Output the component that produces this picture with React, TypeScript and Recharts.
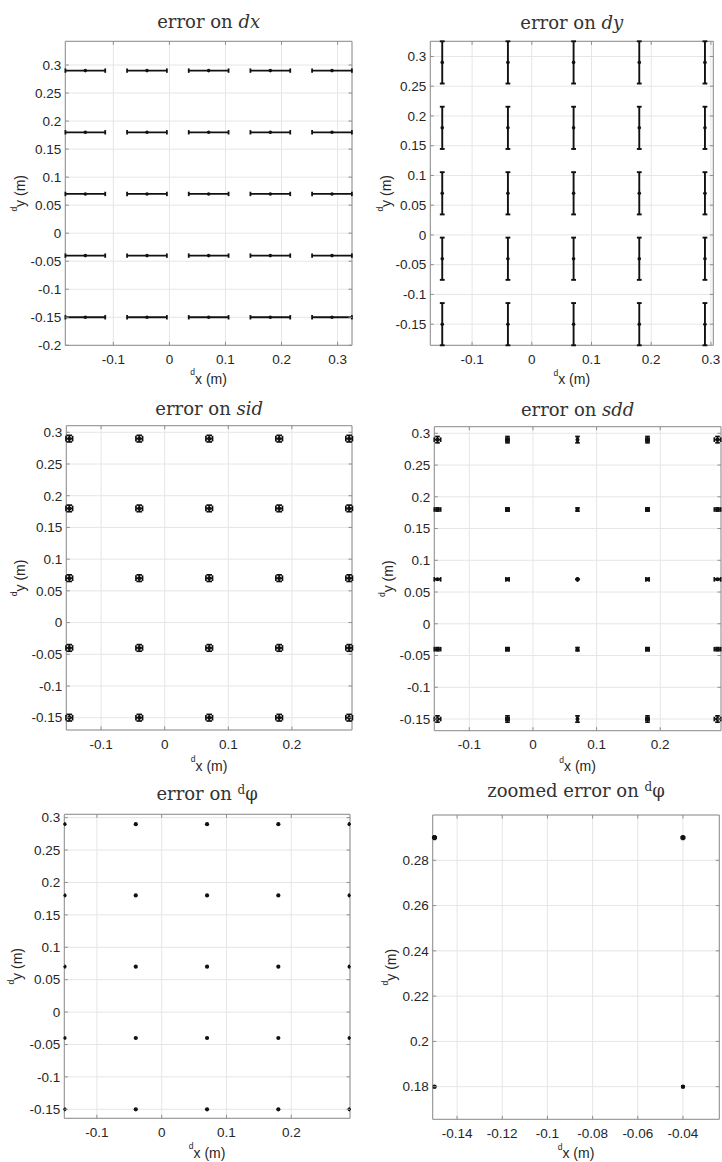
import React from 'react';
import { ScatterChart, Scatter, XAxis, YAxis, CartesianGrid, ErrorBar, ReferenceArea } from 'recharts';

// ---------- data ----------
const gridX = [-0.15, -0.04, 0.07, 0.18, 0.29];
const gridY = [0.29, 0.18, 0.07, -0.04, -0.15];

// error tables: rows follow gridY, columns follow gridX
const dxErrX = [
  [0.0355, 0.0355, 0.0355, 0.0355, 0.0355],
  [0.0355, 0.0355, 0.0355, 0.0355, 0.0355],
  [0.0355, 0.0355, 0.0355, 0.0355, 0.0355],
  [0.0355, 0.0355, 0.0355, 0.0355, 0.0355],
  [0.0355, 0.0355, 0.0355, 0.0355, 0.0355],
];
const dyErrY = [
  [0.0355, 0.0355, 0.0355, 0.0355, 0.0355],
  [0.0355, 0.0355, 0.0355, 0.0355, 0.0355],
  [0.0355, 0.0355, 0.0355, 0.0355, 0.0355],
  [0.0355, 0.0355, 0.0355, 0.0355, 0.0355],
  [0.0355, 0.0355, 0.0355, 0.0355, 0.0355],
];
const sidErrX = [
  [0.0052, 0.0052, 0.0052, 0.0052, 0.0052],
  [0.0052, 0.0052, 0.0052, 0.0052, 0.0052],
  [0.0052, 0.0052, 0.0052, 0.0052, 0.0052],
  [0.0052, 0.0052, 0.0052, 0.0052, 0.0052],
  [0.0052, 0.0052, 0.0052, 0.0052, 0.0052],
];
const sidErrY = [
  [0.0052, 0.0052, 0.0052, 0.0052, 0.0052],
  [0.0052, 0.0052, 0.0052, 0.0052, 0.0052],
  [0.0052, 0.0052, 0.0052, 0.0052, 0.0052],
  [0.0052, 0.0052, 0.0052, 0.0052, 0.0052],
  [0.0052, 0.0052, 0.0052, 0.0052, 0.0052],
];
const sddErrX = [
  [0.005, 0.0025, 0.0004, 0.0025, 0.005],
  [0.005, 0.0025, 0.0004, 0.0025, 0.005],
  [0.005, 0.0025, 0.0004, 0.0025, 0.005],
  [0.005, 0.0025, 0.0004, 0.0025, 0.005],
  [0.005, 0.0025, 0.0004, 0.0025, 0.005],
];
const sddErrY = [
  [0.005, 0.005, 0.005, 0.005, 0.005],
  [0.0025, 0.0025, 0.0025, 0.0025, 0.0025],
  [0.0004, 0.0004, 0.0004, 0.0004, 0.0004],
  [0.0025, 0.0025, 0.0025, 0.0025, 0.0025],
  [0.005, 0.005, 0.005, 0.005, 0.005],
];
const phiErrX = [
  [0.0008, 0.0008, 0.0005, 0.0008, 0.0008],
  [0.0004, 0.0004, 0.0003, 0.0004, 0.0004],
  [0.0004, 0.0003, 0.0002, 0.0003, 0.0004],
  [0.0004, 0.0004, 0.0003, 0.0004, 0.0004],
  [0.0008, 0.0008, 0.0005, 0.0008, 0.0008],
];
const phiErrY = [
  [0.0008, 0.0008, 0.0005, 0.0008, 0.0008],
  [0.0004, 0.0004, 0.0003, 0.0004, 0.0004],
  [0.0004, 0.0003, 0.0002, 0.0003, 0.0004],
  [0.0004, 0.0004, 0.0003, 0.0004, 0.0004],
  [0.0008, 0.0008, 0.0005, 0.0008, 0.0008],
];

// tick labels
const ticksX1 = [-0.1, 0, 0.1, 0.2, 0.3];
const ticksY1 = [-0.2, -0.15, -0.1, -0.05, 0, 0.05, 0.1, 0.15, 0.2, 0.25, 0.3];
const ticksX2 = [-0.1, 0, 0.1, 0.2, 0.3];
const ticksY2 = [-0.15, -0.1, -0.05, 0, 0.05, 0.1, 0.15, 0.2, 0.25, 0.3];
const ticksX3 = [-0.1, 0, 0.1, 0.2];
const ticksY3 = [-0.15, -0.1, -0.05, 0, 0.05, 0.1, 0.15, 0.2, 0.25, 0.3];
const ticksX6 = [-0.14, -0.12, -0.1, -0.08, -0.06, -0.04];
const ticksY6 = [0.18, 0.2, 0.22, 0.24, 0.26, 0.28];

const buildPoints = (ex: number[][] | null, ey: number[][] | null) =>
  gridY.flatMap((y, i) =>
    gridX.map((x, j) => ({ x, y, ex: ex ? ex[i][j] : 0, ey: ey ? ey[i][j] : 0 }))
  );

// ---------- styles ----------
const BOX = '#8e8e8e';
const GRID = '#e6e6e6';
const TXT = '#262626';
const MARK = '#111111';
const SANS = '"Liberation Sans", Arial, Helvetica, sans-serif';
const SERIF = '"DejaVu Serif", "Liberation Serif", serif';
const YW = 45;
const XH = 30;
const XTM = 9;
const YTM = 4;
const TL = 3.5;

type Panel = {
  key: string;
  cx: number; cy: number; cw: number; ch: number;
  l: number; r: number; t: number; b: number;
  xDom: [number, number]; yDom: [number, number];
  xTicks: number[]; yTicks: number[];
  data: { x: number; y: number; ex: number; ey: number }[];
  showX: boolean; showY: boolean;
  capX: number; capY: number; sw: number; dotR: number;
  title: React.ReactNode; titleY: number; xlabY: number; ylabX: number;
};

const ital = (s: string) => <tspan fontStyle="italic">{s}</tspan>;

const panels: Panel[] = [
  {
    key: 'dx', cx: 0, cy: 0, cw: 361, ch: 390,
    l: 65.3, r: 352, t: 41.3, b: 345.3,
    xDom: [-0.1857, 0.3257], yDom: [-0.2, 0.3423],
    xTicks: ticksX1, yTicks: ticksY1,
    data: buildPoints(dxErrX, null), showX: true, showY: false,
    capX: 0, capY: 2.2, sw: 1.8, dotR: 1.8,
    title: <>error on {ital('dx')}</>, titleY: 27.5, xlabY: 383.5, ylabX: 25,
  },
  {
    key: 'dy', cx: 361, cy: 0, cw: 361, ch: 390,
    l: 430.3, r: 713.3, t: 41.3, b: 345.3,
    xDom: [-0.17, 0.304], yDom: [-0.1855, 0.3255],
    xTicks: ticksX2, yTicks: ticksY2,
    data: buildPoints(null, dyErrY), showX: false, showY: true,
    capX: 2.4, capY: 0, sw: 1.9, dotR: 1.8,
    title: <>error on {ital('dy')}</>, titleY: 29, xlabY: 384, ylabX: 391,
  },
  {
    key: 'sid', cx: 0, cy: 390, cw: 361, ch: 390,
    l: 66.3, r: 352, t: 425.7, b: 730,
    xDom: [-0.1547, 0.2945], yDom: [-0.1694, 0.3104],
    xTicks: ticksX3, yTicks: ticksY3,
    data: buildPoints(sidErrX, sidErrY), showX: true, showY: true,
    capX: 2.8, capY: 2.8, sw: 1.7, dotR: 2,
    title: <>error on {ital('sid')}</>, titleY: 415, xlabY: 770.5, ylabX: 25,
  },
  {
    key: 'sdd', cx: 361, cy: 390, cw: 361, ch: 390,
    l: 434.3, r: 721, t: 426.7, b: 730.7,
    xDom: [-0.155, 0.2955], yDom: [-0.1684, 0.3104],
    xTicks: ticksX3, yTicks: ticksY3,
    data: buildPoints(sddErrX, sddErrY), showX: true, showY: true,
    capX: 2.3, capY: 2.3, sw: 1.7, dotR: 2,
    title: <>error on {ital('sdd')}</>, titleY: 415.5, xlabY: 771, ylabX: 393,
  },
  {
    key: 'phi', cx: 0, cy: 780, cw: 361, ch: 382,
    l: 64.3, r: 350, t: 814.3, b: 1118.3,
    xDom: [-0.1503, 0.2906], yDom: [-0.1639, 0.3052],
    xTicks: ticksX3, yTicks: ticksY3,
    data: buildPoints(phiErrX, phiErrY), showX: true, showY: true,
    capX: 0.8, capY: 0.8, sw: 1.2, dotR: 2.1,
    title: <>error on <tspan fontSize={12} dy={-6}>d</tspan><tspan dy={6}>φ</tspan></>,
    titleY: 800, xlabY: 1157.5, ylabX: 22,
  },
  {
    key: 'phiz', cx: 361, cy: 780, cw: 361, ch: 382,
    l: 432.7, r: 719.3, t: 815, b: 1119.3,
    xDom: [-0.1508, -0.0239], yDom: [0.1656, 0.3],
    xTicks: ticksX6, yTicks: ticksY6,
    data: buildPoints(phiErrX, phiErrY).filter(
      (p) => p.x >= -0.1508 && p.x <= -0.0239 && p.y >= 0.1656 && p.y <= 0.3
    ),
    showX: true, showY: true,
    capX: 1.6, capY: 1.6, sw: 1.5, dotR: 2.1,
    title: <>zoomed error on <tspan fontSize={12} dy={-6}>d</tspan><tspan dy={6}>φ</tspan></>,
    titleY: 797, xlabY: 1158, ylabX: 396,
  },
];

const fmt = (v: number) => String(v);

const makeXTick = (plotH: number) => (props: any) => {
  const { x, y, payload } = props;
  const axisY = y - XTM;
  return (
    <g>
      <line x1={x} x2={x} y1={axisY} y2={axisY - TL} stroke={BOX} strokeWidth={1} />
      <line x1={x} x2={x} y1={axisY - plotH} y2={axisY - plotH + TL} stroke={BOX} strokeWidth={1} />
      <text x={x} y={y} dy="0.71em" textAnchor="middle" fontSize={13.5} fill={TXT} fontFamily={SANS}>
        {fmt(payload.value)}
      </text>
    </g>
  );
};

const makeYTick = (plotW: number) => (props: any) => {
  const { x, y, payload } = props;
  const axisX = x + YTM;
  return (
    <g>
      <line x1={axisX} x2={axisX + TL} y1={y} y2={y} stroke={BOX} strokeWidth={1} />
      <line x1={axisX + plotW} x2={axisX + plotW - TL} y1={y} y2={y} stroke={BOX} strokeWidth={1} />
      <text x={x} y={y} dy="0.355em" textAnchor="end" fontSize={13.5} fill={TXT} fontFamily={SANS}>
        {fmt(payload.value)}
      </text>
    </g>
  );
};

function PanelChart({ p }: { p: Panel }) {
  const margin = {
    top: p.t - p.cy,
    left: p.l - p.cx - YW,
    right: p.cx + p.cw - p.r,
    bottom: p.cy + p.ch - p.b - XH,
  };
  const plotW = p.r - p.l;
  const plotH = p.b - p.t;
  const dot = (s: any) => <circle cx={s.cx} cy={s.cy} r={p.dotR} fill={MARK} />;
  return (
    <div style={{ position: 'absolute', left: p.cx, top: p.cy, width: p.cw, height: p.ch }}>
      <ScatterChart width={p.cw} height={p.ch} margin={margin}>
        <CartesianGrid stroke={GRID} strokeWidth={1} />
        <XAxis
          type="number"
          dataKey="x"
          domain={p.xDom}
          allowDataOverflow
          ticks={p.xTicks}
          interval={0}
          height={XH}
          axisLine={false}
          tickLine={false}
          tickSize={0}
          tickMargin={XTM}
          tick={makeXTick(plotH)}
        />
        <YAxis
          type="number"
          dataKey="y"
          domain={p.yDom}
          allowDataOverflow
          ticks={p.yTicks}
          interval={0}
          width={YW}
          axisLine={false}
          tickLine={false}
          tickSize={0}
          tickMargin={YTM}
          tick={makeYTick(plotW)}
        />
        <ReferenceArea
          x1={p.xDom[0]}
          x2={p.xDom[1]}
          y1={p.yDom[0]}
          y2={p.yDom[1]}
          fill="none"
          fillOpacity={0}
          stroke={BOX}
          strokeWidth={1}
          ifOverflow="visible"
        />
        <Scatter data={p.data} shape={dot} isAnimationActive={false}>
          {p.showX && (
            <ErrorBar
              dataKey="ex"
              direction="x"
              width={p.capY}
              stroke={MARK}
              strokeWidth={p.sw}
              isAnimationActive={false}
            />
          )}
          {p.showY && (
            <ErrorBar
              dataKey="ey"
              direction="y"
              width={p.capX}
              stroke={MARK}
              strokeWidth={p.sw}
              isAnimationActive={false}
            />
          )}
        </Scatter>
      </ScatterChart>
    </div>
  );
}

export default function App() {
  return (
    <div style={{ position: 'absolute', left: 0, top: 0, width: 722, height: 1162, background: '#fff' }}>
      {panels.map((p) => (
        <PanelChart key={p.key} p={p} />
      ))}
      <svg
        width={722}
        height={1162}
        style={{ position: 'absolute', left: 0, top: 0, pointerEvents: 'none' }}
      >
        {panels.map((p) => {
          const mx = (p.l + p.r) / 2;
          const my = (p.t + p.b) / 2;
          return (
            <g key={p.key}>
              <text x={mx} y={p.titleY} textAnchor="middle" fontFamily={SERIF} fontSize={18} fill="#333">
                {p.title}
              </text>
              <text x={mx} y={p.xlabY} textAnchor="middle" fontFamily={SANS} fontSize={14} fill={TXT}>
                <tspan fontSize={8.5} dy={-8.5}>d</tspan>
                <tspan dy={8.5}>x (m)</tspan>
              </text>
              <text
                transform={`translate(${p.ylabX},${my}) rotate(-90)`}
                textAnchor="middle"
                fontFamily={SANS}
                fontSize={14}
                fill={TXT}
              >
                <tspan fontSize={8.5} dy={-8.5}>d</tspan>
                <tspan dy={8.5}>y (m)</tspan>
              </text>
            </g>
          );
        })}
      </svg>
    </div>
  );
}
